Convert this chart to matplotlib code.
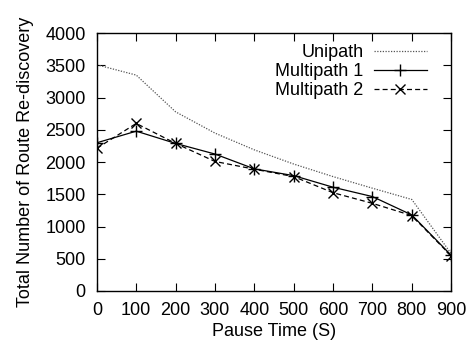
import matplotlib
matplotlib.use("Agg")
import matplotlib.pyplot as plt

pause = [0, 100, 200, 300, 400, 500, 600, 700, 800, 900]
unipath = [3510, 3350, 2780, 2450, 2190, 1970, 1775, 1595, 1420, 580]
multipath1 = [2300, 2480, 2290, 2125, 1895, 1790, 1610, 1465, 1180, 555]
multipath2 = [2215, 2600, 2290, 2010, 1890, 1775, 1525, 1360, 1170, 545]
xticks = [0, 100, 200, 300, 400, 500, 600, 700, 800, 900]
yticks = [0, 500, 1000, 1500, 2000, 2500, 3000, 3500, 4000]

plt.rcParams['font.family'] = ['Liberation Sans', 'DejaVu Sans']
fs = 13
fig = plt.figure(figsize=(4.68, 3.46), dpi=100)
ax = fig.add_axes([0.207, 0.159, 0.757, 0.745])

ax.plot(pause, unipath, color='#555555', linestyle=(0, (1, 1.2)), linewidth=0.9, label='Unipath')
ax.plot(pause, multipath1, color='black', linestyle='-', linewidth=0.9, marker='+', markersize=8, markeredgewidth=1.0, label='Multipath 1')
ax.plot(pause, multipath2, color='black', linestyle=(0, (4, 2.5)), linewidth=0.9, marker='x', markersize=6.5, markeredgewidth=1.0, label='Multipath 2')

ax.set_xlim(0, 900)
ax.set_ylim(0, 4000)
ax.set_xticks(xticks)
ax.set_yticks(yticks)
ax.tick_params(direction='in', top=True, right=True, length=6, labelsize=fs)
ax.tick_params(axis='x', pad=8)
ax.tick_params(axis='y', pad=8)
for s in ax.spines.values():
    s.set_linewidth(1.0)
ax.set_xlabel('Pause Time (S)', fontsize=fs, labelpad=3)
ax.set_ylabel('Total Number of Route Re-discovery', fontsize=fs, labelpad=8)

leg = ax.legend(loc='upper right', bbox_to_anchor=(0.946, 0.978), frameon=False, markerfirst=False, fontsize=fs,
                handlelength=2.9, borderaxespad=0.0, borderpad=0.3, labelspacing=0.1, handletextpad=0.6)

fig.savefig('out.png', dpi=100)
